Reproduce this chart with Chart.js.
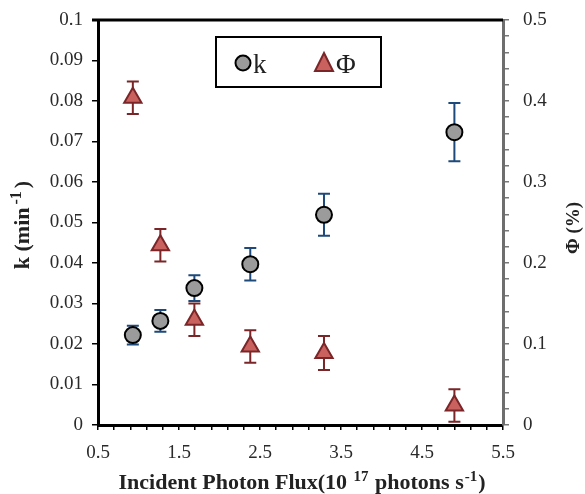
<!DOCTYPE html>
<html>
<head>
<meta charset="utf-8">
<script src="https://cdn.jsdelivr.net/npm/chart.js@4.4.1/dist/chart.umd.min.js"></script>
<style>
html,body{margin:0;padding:0;background:#fff;}
#wrap{width:585px;height:494px;position:relative;}
</style>
</head>
<body>
<div id="wrap"><canvas id="c" width="585" height="494"></canvas></div>
<script>
// ---- data ----
const fluxX = [0.93, 1.27, 1.69, 2.38, 3.29, 4.90];
const kValues = [0.0222, 0.0257, 0.0338, 0.0397, 0.0519, 0.0723];
const kErrors = [0.0023, 0.0027, 0.0032, 0.0040, 0.0052, 0.0072];
const phiValues = [0.404, 0.222, 0.130, 0.097, 0.089, 0.024];
const phiErrors = [0.020, 0.020, 0.020, 0.020, 0.021, 0.020];
const xTickLabels = ['0.5', '1.5', '2.5', '3.5', '4.5', '5.5'];
const kTickLabels = ['0', '0.01', '0.02', '0.03', '0.04', '0.05', '0.06', '0.07', '0.08', '0.09', '0.1'];
const phiTickLabels = ['0', '0.1', '0.2', '0.3', '0.4', '0.5'];
const seriesLabels = ['k', 'Φ'];

const SERIF = '"Liberation Serif", "Times New Roman", serif';
const tickFont = {family: SERIF, size: 19};

function labelFor(value, min, step, labels) {
  const idx = (value - min) / step;
  const r = Math.round(idx);
  if (Math.abs(idx - r) < 1e-6 && r >= 0 && r < labels.length) return labels[r];
  return '';
}

const errorBars = {
  id: 'errorBars',
  beforeDatasetsDraw(chart) {
    const ctx = chart.ctx;
    const xs = chart.scales.x;
    const sets = [
      {scale: chart.scales.yK, vals: kValues, errs: kErrors, color: '#1d4a7a'},
      {scale: chart.scales.yPhi, vals: phiValues, errs: phiErrors, color: '#7a2629'}
    ];
    ctx.save();
    ctx.lineWidth = 2;
    sets.forEach(s => {
      ctx.strokeStyle = s.color;
      fluxX.forEach((xv, i) => {
        const px = xs.getPixelForValue(xv);
        const top = s.scale.getPixelForValue(s.vals[i] + s.errs[i]);
        const bot = s.scale.getPixelForValue(s.vals[i] - s.errs[i]);
        ctx.beginPath();
        ctx.moveTo(px, top); ctx.lineTo(px, bot);
        ctx.moveTo(px - 6, top); ctx.lineTo(px + 6, top);
        ctx.moveTo(px - 6, bot); ctx.lineTo(px + 6, bot);
        ctx.stroke();
      });
    });
    ctx.restore();
  }
};

function drawRich(ctx, parts, x, y, size, align, supRatio, gap) {
  supRatio = supRatio || 0.7;
  gap = gap || 0;
  let total = 0;
  const fontN = 'bold ' + size + 'px ' + SERIF;
  const fontS = 'bold ' + Math.round(size * supRatio) + 'px ' + SERIF;
  parts.forEach(p => { ctx.font = p[1] ? fontS : fontN; total += ctx.measureText(p[0]).width + (p[1] ? 2 * gap : 0); });
  let cx = align === 'center' ? x - total / 2 : x;
  ctx.textBaseline = 'alphabetic';
  ctx.textAlign = 'left';
  parts.forEach(p => {
    ctx.font = p[1] ? fontS : fontN;
    if (p[1]) cx += gap;
    ctx.fillText(p[0], cx, p[1] ? y - size * 0.38 : y);
    cx += ctx.measureText(p[0]).width;
    if (p[1]) cx += gap;
  });
}

const decor = {
  id: 'decor',
  afterDraw(chart) {
    const ctx = chart.ctx;
    const a = chart.chartArea;
    ctx.save();
    ctx.strokeStyle = '#000';
    ctx.lineWidth = 3;
    ctx.beginPath();
    ctx.moveTo(92, a.top); ctx.lineTo(a.right, a.top);
    ctx.stroke();
    ctx.fillStyle = '#222';
    drawRich(ctx, [['Incident Photon Flux(10 ', false], ['17', true], [' photons s', false], ['-1', true], [')', false]], 302, 489, 22, 'center', 0.68, 1);
    ctx.save();
    ctx.translate(29, 225);
    ctx.rotate(-Math.PI / 2);
    drawRich(ctx, [['k (min', false], ['-1', true], [')', false]], 0, 0, 22, 'center', 0.72, 3);
    ctx.restore();
    ctx.save();
    ctx.translate(579, 228);
    ctx.rotate(-Math.PI / 2);
    drawRich(ctx, [['Φ (%)', false]], 0, 0, 19, 'center');
    ctx.restore();
    // legend
    ctx.lineWidth = 2;
    ctx.strokeStyle = '#000';
    ctx.fillStyle = '#fff';
    ctx.fillRect(216, 37, 165, 50);
    ctx.strokeRect(216, 37, 165, 50);
    ctx.beginPath();
    ctx.arc(243, 63, 7.5, 0, Math.PI * 2);
    ctx.fillStyle = '#9b9b9b';
    ctx.fill();
    ctx.lineWidth = 2;
    ctx.strokeStyle = '#000';
    ctx.stroke();
    ctx.beginPath();
    ctx.moveTo(324, 53); ctx.lineTo(333, 71); ctx.lineTo(315, 71); ctx.closePath();
    ctx.fillStyle = '#c9625e';
    ctx.fill();
    ctx.strokeStyle = '#7a2629';
    ctx.stroke();
    ctx.fillStyle = '#222';
    ctx.font = '27px ' + SERIF;
    ctx.textBaseline = 'alphabetic';
    ctx.textAlign = 'left';
    ctx.fillText(seriesLabels[0], 253, 73);
    ctx.fillText(seriesLabels[1], 336, 73);
    ctx.restore();
  }
};

function zeroPad(s) { s.paddingTop = 0; s.paddingBottom = 0; s.paddingLeft = 0; s.paddingRight = 0; }

new Chart(document.getElementById('c'), {
  type: 'scatter',
  data: {
    datasets: [
      {
        label: seriesLabels[0],
        data: fluxX.map((x, i) => ({x: x, y: kValues[i]})),
        yAxisID: 'yK',
        pointStyle: 'circle',
        pointRadius: 8,
        pointHoverRadius: 8,
        backgroundColor: '#9b9b9b',
        borderColor: '#000',
        borderWidth: 2
      },
      {
        label: seriesLabels[1],
        data: fluxX.map((x, i) => ({x: x, y: phiValues[i]})),
        yAxisID: 'yPhi',
        pointStyle: 'triangle',
        pointRadius: 10,
        pointHoverRadius: 10,
        backgroundColor: '#c9625e',
        borderColor: '#7a2629',
        borderWidth: 2
      }
    ]
  },
  options: {
    responsive: false,
    animation: false,
    events: [],
    layout: {padding: {top: 20, left: 0, right: 0, bottom: 0}},
    plugins: {legend: {display: false}, tooltip: {enabled: false}},
    scales: {
      x: {
        type: 'linear',
        min: 0.5, max: 5.5,
        afterFit(s) { s.height = 69; zeroPad(s); },
        border: {display: true, color: '#000', width: 3},
        grid: {drawOnChartArea: false, drawTicks: true, tickLength: 5, color: '#000', lineWidth: 1.5},
        ticks: {
          stepSize: 0.2,
          autoSkip: false,
          maxRotation: 0,
          padding: 12,
          color: '#2a2a2a',
          font: tickFont,
          callback: v => labelFor(v, 0.5, 1.0, xTickLabels)
        }
      },
      yK: {
        type: 'linear',
        position: 'left',
        min: 0, max: 0.1,
        afterFit(s) { s.width = 98; zeroPad(s); },
        border: {display: true, color: '#000', width: 3},
        grid: {drawOnChartArea: false, drawTicks: true, tickLength: 6, color: '#000', lineWidth: 1.5},
        ticks: {
          stepSize: 0.01,
          autoSkip: false,
          padding: 9,
          color: '#2a2a2a',
          font: tickFont,
          callback: v => labelFor(v, 0, 0.01, kTickLabels)
        }
      },
      yPhi: {
        type: 'linear',
        position: 'right',
        min: 0, max: 0.5,
        afterFit(s) { s.width = 82; zeroPad(s); },
        border: {display: true, color: '#6e6e6e', width: 3},
        grid: {drawOnChartArea: false, drawTicks: true, tickLength: 6, color: '#777', lineWidth: 1.5},
        ticks: {
          stepSize: 0.02,
          autoSkip: false,
          padding: 14,
          color: '#2a2a2a',
          font: tickFont,
          callback: v => labelFor(v, 0, 0.1, phiTickLabels)
        }
      }
    }
  },
  plugins: [errorBars, decor]
});
</script>
</body>
</html>
